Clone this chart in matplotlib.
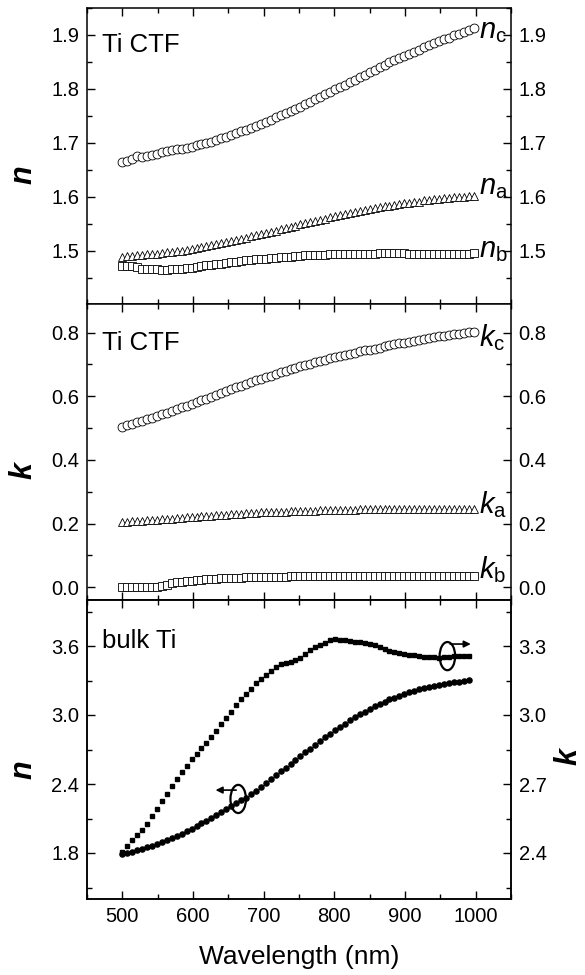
import matplotlib
matplotlib.use('Agg')
import matplotlib.pyplot as plt
from matplotlib.patches import Ellipse
from matplotlib.ticker import MultipleLocator, FormatStrFormatter

plt.rcParams['font.family'] = ['Liberation Sans', 'DejaVu Sans']
plt.rcParams['mathtext.fontset'] = 'custom'
plt.rcParams['mathtext.rm'] = 'Liberation Sans'
plt.rcParams['mathtext.it'] = 'Liberation Sans:italic'

# Ti CTF wavelengths (nm)
wl = list(range(500, 1000, 7))
# bulk Ti wavelengths (nm)
wl_bulk = list(range(500, 991, 7))

n_c = [1.664, 1.666, 1.670, 1.675, 1.674, 1.676, 1.678, 1.680, 1.682, 1.684,
       1.686, 1.688, 1.689, 1.691, 1.693, 1.695, 1.697, 1.700, 1.702, 1.705,
       1.708, 1.711, 1.714, 1.718, 1.721, 1.724, 1.728, 1.731, 1.735, 1.739,
       1.743, 1.747, 1.751, 1.755, 1.759, 1.763, 1.767, 1.772, 1.776, 1.781,
       1.785, 1.790, 1.794, 1.799, 1.804, 1.808, 1.813, 1.817, 1.822, 1.826,
       1.831, 1.835, 1.840, 1.844, 1.849, 1.853, 1.857, 1.861, 1.865, 1.869,
       1.873, 1.877, 1.881, 1.885, 1.888, 1.892, 1.895, 1.899, 1.902, 1.905,
       1.909, 1.912]
n_a = [1.489, 1.490, 1.490, 1.491, 1.492, 1.493, 1.494, 1.494, 1.495, 1.497,
       1.498, 1.499, 1.500, 1.502, 1.503, 1.505, 1.506, 1.508, 1.510, 1.512,
       1.514, 1.516, 1.518, 1.520, 1.522, 1.524, 1.527, 1.529, 1.531, 1.533,
       1.535, 1.537, 1.540, 1.542, 1.544, 1.546, 1.549, 1.551, 1.553, 1.555,
       1.557, 1.559, 1.562, 1.564, 1.566, 1.568, 1.570, 1.571, 1.573, 1.575,
       1.577, 1.579, 1.580, 1.582, 1.583, 1.585, 1.586, 1.588, 1.589, 1.590,
       1.591, 1.593, 1.594, 1.595, 1.596, 1.597, 1.598, 1.599, 1.600, 1.600,
       1.601, 1.602]
n_b = [1.471, 1.471, 1.471, 1.470, 1.466, 1.465, 1.465, 1.465, 1.464, 1.464,
       1.465, 1.465, 1.466, 1.467, 1.468, 1.470, 1.471, 1.473, 1.474, 1.475,
       1.476, 1.477, 1.478, 1.479, 1.481, 1.482, 1.483, 1.484, 1.485, 1.485,
       1.486, 1.487, 1.488, 1.488, 1.489, 1.490, 1.490, 1.491, 1.491, 1.492,
       1.492, 1.492, 1.493, 1.493, 1.493, 1.493, 1.494, 1.494, 1.494, 1.494,
       1.494, 1.494, 1.495, 1.495, 1.495, 1.495, 1.495, 1.495, 1.494, 1.494,
       1.494, 1.494, 1.494, 1.494, 1.494, 1.494, 1.494, 1.494, 1.494, 1.494,
       1.494, 1.495]

k_c = [0.505, 0.510, 0.514, 0.519, 0.523, 0.528, 0.533, 0.538, 0.543, 0.548,
       0.554, 0.559, 0.565, 0.570, 0.576, 0.582, 0.587, 0.593, 0.599, 0.605,
       0.611, 0.616, 0.622, 0.628, 0.633, 0.639, 0.644, 0.650, 0.655, 0.660,
       0.665, 0.670, 0.675, 0.680, 0.685, 0.689, 0.694, 0.698, 0.703, 0.707,
       0.711, 0.715, 0.719, 0.723, 0.727, 0.730, 0.734, 0.737, 0.741, 0.744,
       0.747, 0.750, 0.753, 0.757, 0.760, 0.763, 0.766, 0.769, 0.772, 0.775,
       0.778, 0.780, 0.783, 0.786, 0.788, 0.790, 0.793, 0.795, 0.797, 0.799,
       0.801, 0.803]
k_a = [0.205, 0.206, 0.207, 0.208, 0.209, 0.210, 0.211, 0.212, 0.213, 0.214,
       0.215, 0.217, 0.218, 0.220, 0.221, 0.222, 0.223, 0.224, 0.225, 0.226,
       0.227, 0.228, 0.229, 0.230, 0.231, 0.232, 0.233, 0.234, 0.235, 0.235,
       0.236, 0.237, 0.237, 0.238, 0.239, 0.239, 0.240, 0.240, 0.241, 0.241,
       0.242, 0.242, 0.243, 0.243, 0.243, 0.244, 0.244, 0.244, 0.245, 0.245,
       0.245, 0.245, 0.245, 0.246, 0.246, 0.246, 0.246, 0.246, 0.246, 0.246,
       0.246, 0.246, 0.246, 0.246, 0.246, 0.245, 0.245, 0.245, 0.245, 0.245,
       0.245, 0.245]
k_b = [0.000, 0.000, 0.000, 0.000, 0.000, 0.000, 0.001, 0.002, 0.004, 0.008,
       0.012, 0.015, 0.017, 0.019, 0.021, 0.022, 0.023, 0.025, 0.026, 0.027,
       0.028, 0.029, 0.029, 0.030, 0.030, 0.031, 0.031, 0.032, 0.032, 0.032,
       0.033, 0.033, 0.033, 0.033, 0.034, 0.034, 0.034, 0.034, 0.034, 0.034,
       0.034, 0.034, 0.035, 0.035, 0.035, 0.035, 0.035, 0.035, 0.035, 0.035,
       0.035, 0.035, 0.035, 0.035, 0.035, 0.035, 0.035, 0.035, 0.035, 0.035,
       0.035, 0.035, 0.035, 0.035, 0.036, 0.036, 0.036, 0.036, 0.036, 0.036,
       0.036, 0.036]

n_bulk = [1.792, 1.800, 1.810, 1.822, 1.835, 1.848, 1.862, 1.877, 1.893, 1.910,
          1.927, 1.944, 1.964, 1.988, 2.012, 2.035, 2.058, 2.081, 2.105, 2.130,
          2.157, 2.184, 2.210, 2.234, 2.258, 2.282, 2.312, 2.343, 2.375, 2.407,
          2.441, 2.476, 2.510, 2.543, 2.576, 2.609, 2.641, 2.674, 2.706, 2.739,
          2.772, 2.805, 2.838, 2.869, 2.898, 2.926, 2.955, 2.982, 3.006, 3.030,
          3.055, 3.076, 3.096, 3.116, 3.135, 3.152, 3.169, 3.184, 3.197, 3.210,
          3.222, 3.233, 3.244, 3.254, 3.264, 3.272, 3.279, 3.285, 3.291, 3.297,
          3.302]
k_bulk = [2.405, 2.430, 2.458, 2.480, 2.500, 2.528, 2.560, 2.593, 2.625, 2.657,
          2.690, 2.722, 2.752, 2.780, 2.808, 2.832, 2.857, 2.880, 2.905, 2.932,
          2.960, 2.988, 3.015, 3.042, 3.068, 3.093, 3.115, 3.137, 3.158, 3.175,
          3.192, 3.210, 3.222, 3.226, 3.230, 3.238, 3.250, 3.266, 3.282, 3.294,
          3.305, 3.315, 3.324, 3.329, 3.327, 3.324, 3.321, 3.319, 3.317, 3.314,
          3.309, 3.303, 3.295, 3.287, 3.280, 3.274, 3.269, 3.265, 3.262, 3.259,
          3.256, 3.253, 3.252, 3.251, 3.250, 3.251, 3.253, 3.255, 3.256, 3.257,
          3.258]

fig = plt.figure(figsize=(5.85, 9.75), dpi=100)
L, W = 87 / 585, 424 / 585
ax1 = fig.add_axes([L, 1 - 304 / 975, W, 296 / 975])
ax2 = fig.add_axes([L, 1 - 600 / 975, W, 296 / 975])
ax3 = fig.add_axes([L, 1 - 899 / 975, W, 299 / 975])

fs_tick = 14.5
open_kw = dict(ls='none', mfc='white', mec='black', mew=0.6, ms=6.4)

ax1.plot(wl, n_c, marker='o', **open_kw)
ax1.plot(wl, n_a, marker='^', **open_kw)
ax1.plot(wl, n_b, marker='s', **dict(open_kw, ms=5.6))
ax2.plot(wl, k_c, marker='o', **open_kw)
ax2.plot(wl, k_a, marker='^', **open_kw)
ax2.plot(wl, k_b, marker='s', **dict(open_kw, ms=5.6))

ax3.plot(wl_bulk, n_bulk, ls='none', marker='o', color='black', ms=3.7)
ax3r = ax3.twinx()
ax3r.plot(wl_bulk, k_bulk, ls='none', marker='s', color='black', ms=3.5)

ax1.set_ylim(1.401, 1.95)
ax1.yaxis.set_major_locator(MultipleLocator(0.1))
ax1.yaxis.set_minor_locator(MultipleLocator(0.05))
ax2.set_ylim(-0.04, 0.89)
ax2.yaxis.set_major_locator(MultipleLocator(0.2))
ax2.yaxis.set_minor_locator(MultipleLocator(0.1))
ax3.set_ylim(1.4, 4.0)
ax3.yaxis.set_major_locator(MultipleLocator(0.6))
ax3.yaxis.set_minor_locator(MultipleLocator(0.3))
ax3r.set_ylim(2.2, 3.5)
ax3r.yaxis.set_major_locator(MultipleLocator(0.3))
ax3r.yaxis.set_minor_locator(MultipleLocator(0.15))

for ax in (ax1, ax2, ax3, ax3r):
    ax.set_xlim(450, 1050)
    ax.xaxis.set_major_locator(MultipleLocator(100))
    ax.xaxis.set_minor_locator(MultipleLocator(50))
    ax.tick_params(which='both', direction='in', top=True, bottom=True,
                   labelsize=fs_tick, width=1.0, pad=5.5)
    ax.tick_params(which='major', length=6)
    ax.tick_params(which='minor', length=3.5)
    ax.yaxis.set_major_formatter(FormatStrFormatter('%.1f'))
    for s in ax.spines.values():
        s.set_linewidth(1.1)

for ax in (ax1, ax2):
    ax.tick_params(which='both', left=True, right=True, labelright=True,
                   labelbottom=False)
ax3.tick_params(which='both', left=True, right=False)
ax3r.tick_params(which='both', left=False, right=True)

lab_kw = dict(fontsize=22, fontweight='bold', fontstyle='italic')
ax1.set_ylabel('n', **lab_kw)
ax2.set_ylabel('k', **lab_kw)
ax3.set_ylabel('n', **lab_kw)
ax1.yaxis.set_label_coords(-0.114, 0.436)
ax2.yaxis.set_label_coords(-0.114, 0.436)
ax3.yaxis.set_label_coords(-0.114, 0.431)
ax3r.set_ylabel('k', rotation=90, **lab_kw)
ax3r.yaxis.set_label_coords(1.1, 0.475)

ax3.set_xlabel('Wavelength (nm)', fontsize=19, labelpad=14)

ax1.text(0.035, 0.851, 'Ti CTF', transform=ax1.transAxes, fontsize=18.5)
ax2.text(0.035, 0.845, 'Ti CTF', transform=ax2.transAxes, fontsize=18.5)
ax3.text(0.035, 0.839, 'bulk Ti', transform=ax3.transAxes, fontsize=18.5)

lbl = dict(fontsize=21, ha='left', va='baseline')
ax1.text(1005, 1.894, r'$n_\mathrm{c}$', **lbl)
ax1.text(1005, 1.604, r'$n_\mathrm{a}$', **lbl)
ax1.text(1005, 1.487, r'$n_\mathrm{b}$', **lbl)
ax2.text(1005, 0.756, r'$k_\mathrm{c}$', **lbl)
ax2.text(1005, 0.234, r'$k_\mathrm{a}$', **lbl)
ax2.text(1005, 0.028, r'$k_\mathrm{b}$', **lbl)

# axis indicators in bulk panel
ax3.add_patch(Ellipse((664, 2.27), 22, 0.245, fill=False, lw=1.6,
                      ec='black', zorder=5))
ax3.annotate('', xy=(628, 2.347), xytext=(665, 2.347),
             arrowprops=dict(arrowstyle='-|>', lw=1.2, color='black',
                             mutation_scale=10))
ax3.add_patch(Ellipse((960, 3.512), 22, 0.245, fill=False, lw=1.6,
                      ec='black', zorder=5))
ax3.annotate('', xy=(997, 3.617), xytext=(960, 3.617),
             arrowprops=dict(arrowstyle='-|>', lw=1.2, color='black',
                             mutation_scale=10))

fig.savefig('out.png', dpi=100)
